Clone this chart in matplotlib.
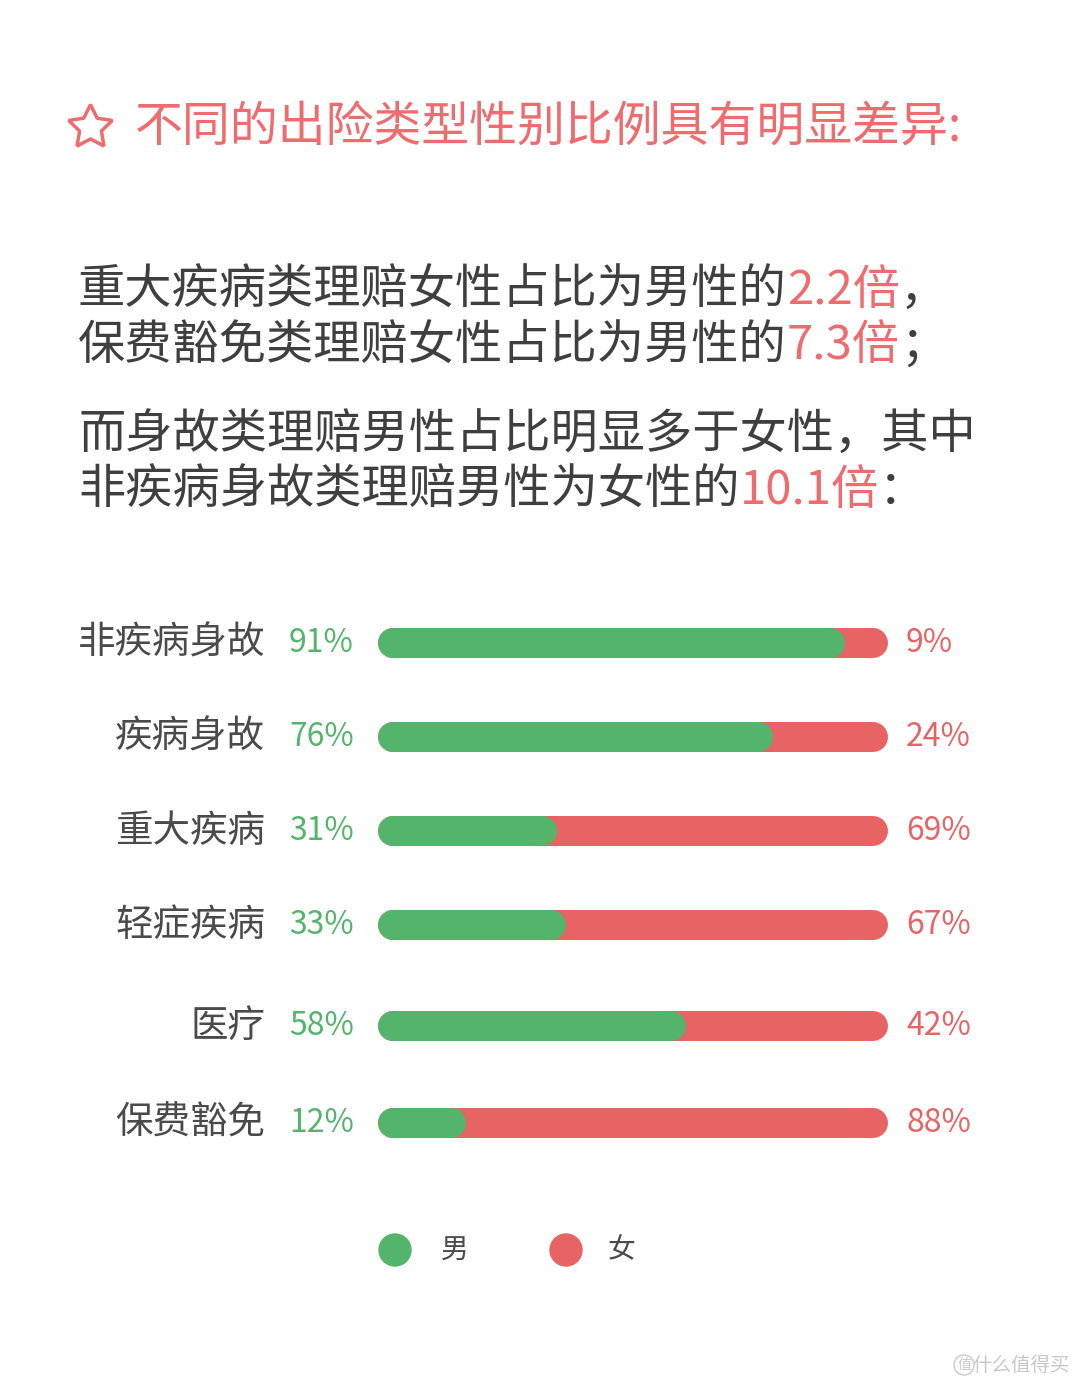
import matplotlib
matplotlib.use("Agg")
import matplotlib.pyplot as plt
from matplotlib.patches import Circle

plt.rcParams['font.family'] = ['Noto Sans CJK SC', 'DejaVu Sans']

# data
categories = ['非疾病身故', '疾病身故', '重大疾病', '轻症疾病', '医疗', '保费豁免']
male_pct = [91, 76, 31, 33, 58, 12]
female_pct = [9, 24, 69, 67, 42, 88]
legend_labels = ['男', '女']

title = '不同的出险类型性别比例具有明显差异:'
body_lines = [
    [('重大疾病类理赔女性占比为男性的', 'k'), ('2.2倍', 'r'), ('，', 'k')],
    [('保费豁免类理赔女性占比为男性的', 'k'), ('7.3倍', 'r'), ('；', 'k')],
    [('而身故类理赔男性占比明显多于女性，其中', 'k')],
    [('非疾病身故类理赔男性为女性的', 'k'), ('10.1倍', 'r'), ('：', 'k')],
]

GREEN = '#52B56B'
RED = '#E86364'
DARK = '#3f3f3f'
TITLE_RED = '#EE6B6E'

W, H = 1080, 1388
fig = plt.figure(figsize=(W / 100, H / 100), dpi=100)
bg = fig.add_axes([0, 0, 1, 1])
bg.set_xlim(0, W)
bg.set_ylim(H, 0)
bg.axis('off')

# title
bg.plot([90], [127], marker=(5, 1, 0), ms=33, mfc='none', mec=TITLE_RED, mew=2.5)
bg.text(135, 128, title, color=TITLE_RED, fontsize=34.5, ha='left', va='center')

# body text with mixed colours
fig.canvas.draw()
renderer = fig.canvas.get_renderer()
line_y = [291, 346, 436, 491]
for y, parts in zip(line_y, body_lines):
    x = 78
    for txt, c in parts:
        t = bg.text(x, y, txt, color=DARK if c == 'k' else TITLE_RED,
                    fontsize=34, ha='left', va='center')
        bb = t.get_window_extent(renderer=renderer)
        x += bb.width

# bars
bar_left, bar_right = 378, 888
bar_h = 30
cap = bar_h / 2
ax = fig.add_axes([(bar_left + cap) / W, 0, (bar_right - bar_left - 2 * cap) / W, 1])
ax.set_xlim(0, 100)
ax.set_ylim(H, 0)
ax.axis('off')
lw = bar_h * 72 / 100
row_y = [643, 737, 831, 925, 1026, 1123]
for i, (cat, m, f) in enumerate(zip(categories, male_pct, female_pct)):
    y = row_y[i]
    ax.plot([0, m + f], [y, y], color=RED, lw=lw, solid_capstyle='round', clip_on=False)
    ax.plot([0, m], [y, y], color=GREEN, lw=lw, solid_capstyle='round', clip_on=False)
    bg.text(265, y, cat, color='#4a4a4a', fontsize=27, ha='right', va='center')
    bg.text(289, y, f'{m}%', color=GREEN, fontsize=23, ha='left', va='center')
    bg.text(906, y, f'{f}%', color=RED, fontsize=23, ha='left', va='center')

# legend
for cx, tx, c, lab in [(395, 455, GREEN, legend_labels[0]), (566, 622, RED, legend_labels[1])]:
    bg.add_patch(Circle((cx, 1250), 16, color=c))
    bg.text(tx, 1250, lab, color='#4a4a4a', fontsize=20, ha='center', va='center')

# watermark
bg.add_patch(Circle((964, 1365), 10, fill=False, ec='#d0d0d0', lw=1.2))
bg.text(964, 1365, '值', color='#c8c8c8', fontsize=10, ha='center', va='center')
bg.text(1070, 1365, '什么值得买', color='#c8c8c8', fontsize=14, ha='right', va='center')

fig.savefig('out.png', dpi=100, facecolor='white')
